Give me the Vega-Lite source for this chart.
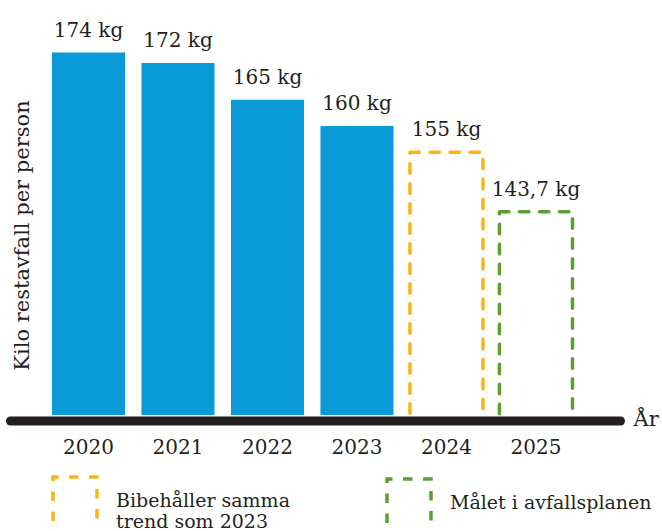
{
  "$schema": "https://vega.github.io/schema/vega-lite/v6.json",
  "width": 662,
  "height": 415,
  "autosize": {"type": "none"},
  "padding": {"left": 0, "top": 0, "right": 0, "bottom": 116},
  "background": "white",
  "config": {
    "view": {"stroke": null},
    "locale": {"number": {"decimal": ",", "thousands": " ", "grouping": [3], "currency": ["", " kr"]}},
    "font": "DejaVu Serif"
  },
  "data": {
    "values": [
      {"ar": "2020", "kg": 174, "serie": "Faktiskt"},
      {"ar": "2021", "kg": 172, "serie": "Faktiskt"},
      {"ar": "2022", "kg": 165, "serie": "Faktiskt"},
      {"ar": "2023", "kg": 160, "serie": "Faktiskt"},
      {"ar": "2024", "kg": 155, "serie": "Bibehåller samma trend som 2023"},
      {"ar": "2025", "kg": 143.7, "serie": "Målet i avfallsplanen"}
    ]
  },
  "encoding": {
    "x": {
      "field": "ar",
      "type": "ordinal",
      "scale": {"range": [10, 620], "paddingInner": 0.184, "paddingOuter": 0.5, "align": 0.469},
      "axis": {
        "title": "År",
        "titleX": 633,
        "titleY": 4.5,
        "titleAlign": "left",
        "titleBaseline": "alphabetic",
        "titleAnchor": null,
        "titleFontSize": 21,
        "titleFontWeight": "normal",
        "titleFont": "DejaVu Serif",
        "titleColor": "#231f20",
        "labelAngle": 0,
        "labelFont": "DejaVu Serif",
        "labelFontSize": 20,
        "labelColor": "#231f20",
        "labelBaseline": "alphabetic",
        "labelPadding": 33,
        "ticks": false,
        "domain": true,
        "domainWidth": 9,
        "domainColor": "#231f20",
        "domainCap": "round",
        "offset": 5.5,
        "grid": false,
        "zindex": 1
      }
    },
    "y": {
      "field": "kg",
      "type": "quantitative",
      "scale": {"domain": [105, 184], "zero": false, "nice": false},
      "axis": {
        "title": "Kilo restavfall per person",
        "titleFont": "DejaVu Serif",
        "titleFontSize": 21,
        "titleFontWeight": "normal",
        "titleColor": "#231f20",
        "titleAngle": -90,
        "titleX": 22,
        "titleY": 235,
        "titleAlign": "center",
        "titleBaseline": "middle",
        "labels": false,
        "ticks": false,
        "domain": false,
        "grid": false
      }
    }
  },
  "layer": [
    {
      "transform": [{"filter": "datum.serie === 'Faktiskt'"}],
      "mark": {"type": "bar", "color": "#0a9ad8"},
      "encoding": {"y2": {"datum": 105}}
    },
    {
      "transform": [{"filter": "datum.serie !== 'Faktiskt'"}],
      "mark": {"type": "bar", "fill": "transparent", "strokeWidth": 3.5, "strokeDash": [9.5, 10.5], "strokeCap": "round", "strokeJoin": "round"},
      "encoding": {
        "y2": {"datum": 104.1},
        "stroke": {
          "field": "serie",
          "type": "nominal",
          "scale": {"domain": ["Bibehåller samma trend som 2023", "Målet i avfallsplanen"], "range": ["#fbb414", "#5b9e32"]},
          "legend": {
            "title": null,
            "orient": "none",
            "legendX": 51,
            "legendY": 483,
            "direction": "horizontal",
            "columns": 2,
            "columnPadding": 90,
            "symbolType": "M-1,0.636L-1,-1.364L1,-1.364L1,0.636",
            "symbolSize": 1936,
            "symbolStrokeWidth": 3.5,
            "symbolDash": [9.5, 10.5],
            "symbolFillColor": "transparent",
            "labelExpr": "datum.label == 'Bibehåller samma trend som 2023' ? ['Bibehåller samma', 'trend som 2023'] : datum.label",
            "labelFont": "DejaVu Serif",
            "labelFontSize": 19,
            "labelColor": "#231f20",
            "labelBaseline": "alphabetic",
            "labelOffset": 17,
            "labelLimit": 400
          }
        }
      }
    },
    {
      "transform": [{"calculate": "format(datum.kg, '~g') + ' kg'", "as": "etikett"}],
      "mark": {"type": "text", "baseline": "alphabetic", "dy": -16, "fontSize": 20, "font": "DejaVu Serif", "color": "#231f20"},
      "encoding": {"text": {"field": "etikett"}}
    }
  ]
}
